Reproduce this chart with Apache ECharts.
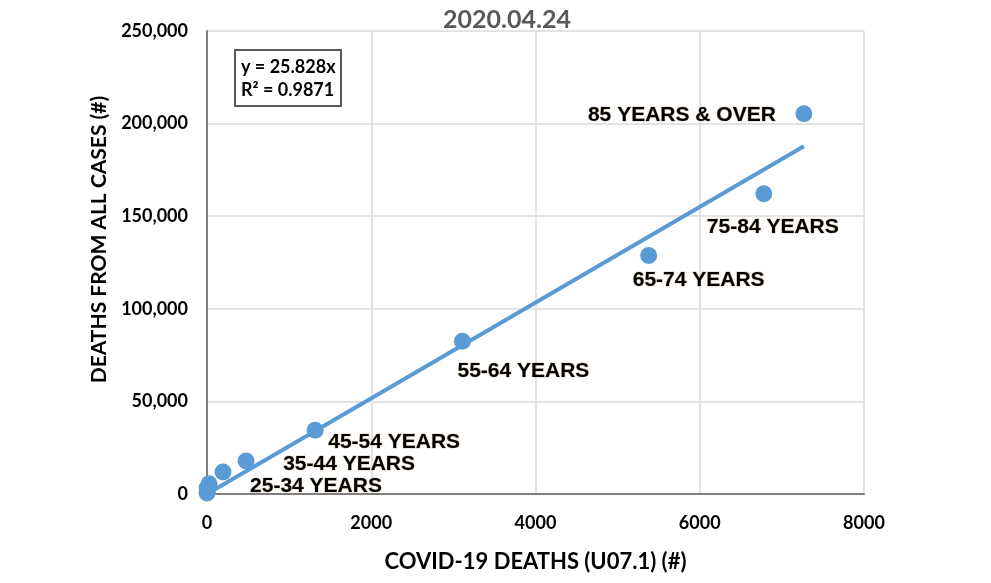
<!DOCTYPE html>
<html>
<head>
<meta charset="utf-8">
<script src="https://cdn.jsdelivr.net/npm/echarts@6/dist/echarts.min.js"></script>
<style>
html,body{margin:0;padding:0;background:#fff;}
#chart{width:991px;height:583px;}
</style>
</head>
<body>
<div id="chart"></div>
<script>
// ---- data ----
const ageGroups = ['UNDER 1 YEAR', '1-4 YEARS', '5-14 YEARS', '15-24 YEARS', '25-34 YEARS', '35-44 YEARS', '45-54 YEARS', '55-64 YEARS', '65-74 YEARS', '75-84 YEARS', '85 YEARS & OVER'];
const covidDeaths = [2, 1, 3, 25, 195, 476, 1317, 3110, 5378, 6780, 7268];
const allDeaths = [3300, 600, 900, 5500, 11850, 17780, 34480, 82430, 128770, 162180, 205280];
const labelShown = [false, false, false, false, true, true, true, true, true, true, true];
const xTicks = [0, 2000, 4000, 6000, 8000];
const yTicks = [0, 50000, 100000, 150000, 200000, 250000];
const trendSlope = 25.828;
const rSquared = 0.9871;
const chartTitle = '2020.04.24';

// ---- styling (label placement, pixel offsets from point centre) ----
const labelOffsets = [[0,0],[0,0],[0,0],[0,0],[93,14],[103,3],[79,12],[61,30],[50,25],[9,34],[-122,1]];

const blue = '#5b9bd5';
const symSize = 17;
const tickFont = {fontFamily: 'Lato', fontWeight: 'bold', fontSize: 18, color: '#000'};

const points = covidDeaths.map((x, i) => ({
  value: [x, allDeaths[i]],
  name: ageGroups[i],
  label: {
    show: labelShown[i],
    position: [symSize / 2 + labelOffsets[i][0], symSize / 2 + labelOffsets[i][1]],
    align: 'center',
    verticalAlign: 'middle',
    formatter: ageGroups[i]
  }
}));
const xMax = Math.max(...covidDeaths);
const trend = [[0, 0], [xMax, trendSlope * xMax]];

const chart = echarts.init(document.getElementById('chart'), null, {renderer: 'canvas'});
chart.setOption({
  backgroundColor: '#fff',
  animation: false,
  title: [
    {
      text: chartTitle,
      left: 502, top: 2, textAlign: 'center',
      textStyle: {fontFamily: 'Lato', fontWeight: 'bold', fontSize: 25, color: '#595959'}
    },
    {
      text: 'y = ' + trendSlope + 'x\nR\u00B2 = ' + rSquared,
      left: 235, top: 50,
      borderColor: '#595959', borderWidth: 2,
      padding: [6, 6, 4, 6],
      textStyle: {fontFamily: 'Lato', fontWeight: 'bold', fontSize: 18, color: '#000', lineHeight: 23}
    }
  ],
  grid: {left: 207, right: 127, top: 31, bottom: 89, containLabel: false},
  xAxis: [
    {
      type: 'value', min: 0, max: 8000, interval: 2000,
      name: 'COVID-19 DEATHS (U07.1) (#)', nameLocation: 'middle', nameGap: 57,
      nameTextStyle: {fontFamily: 'Lato', fontWeight: 'bold', fontSize: 22, color: '#000'},
      axisLine: {show: true, lineStyle: {color: '#d9d9d9', width: 2}},
      axisTick: {show: false},
      axisLabel: Object.assign({margin: 20, formatter: v => String(v)}, tickFont),
      splitLine: {show: true, lineStyle: {color: '#e3e3e3', width: 2}}
    },
    {
      type: 'value', position: 'top', min: 0, max: 8000, interval: 2000,
      axisLine: {show: true, lineStyle: {color: '#7f7f7f', width: 2}},
      axisTick: {show: false}, axisLabel: {show: false}, splitLine: {show: false}
    }
  ],
  yAxis: [
    {
      type: 'value', min: 0, max: 250000, interval: 50000,
      name: 'DEATHS FROM ALL CASES (#)', nameLocation: 'middle', nameGap: 97,
      nameTextStyle: {fontFamily: 'Lato', fontWeight: 'bold', fontSize: 21, color: '#000', padding: [0, 0, 0, 46]},
      axisLine: {show: true, lineStyle: {color: '#d9d9d9', width: 2}},
      axisTick: {show: false},
      axisLabel: Object.assign({margin: 19, formatter: v => v.toLocaleString('en-US')}, tickFont),
      splitLine: {show: true, lineStyle: {color: '#e3e3e3', width: 2}}
    },
    {
      type: 'value', position: 'right', min: 0, max: 250000, interval: 50000,
      axisLine: {show: true, lineStyle: {color: '#7f7f7f', width: 2}},
      axisTick: {show: false}, axisLabel: {show: false}, splitLine: {show: false}
    }
  ],
  series: [
    {
      type: 'line',
      data: trend,
      showSymbol: false,
      symbol: 'none',
      lineStyle: {color: blue, width: 4},
      z: 3,
      silent: true
    },
    {
      type: 'scatter',
      data: points,
      symbolSize: symSize,
      itemStyle: {color: blue, opacity: 1},
      label: {
        color: '#000',
        fontFamily: 'Liberation Sans',
        fontWeight: 'bold',
        fontSize: 21,
        textBorderColor: 'rgba(150,100,40,0.35)',
        textBorderWidth: 1
      },
      z: 4
    }
  ]
});
</script>
</body>
</html>
